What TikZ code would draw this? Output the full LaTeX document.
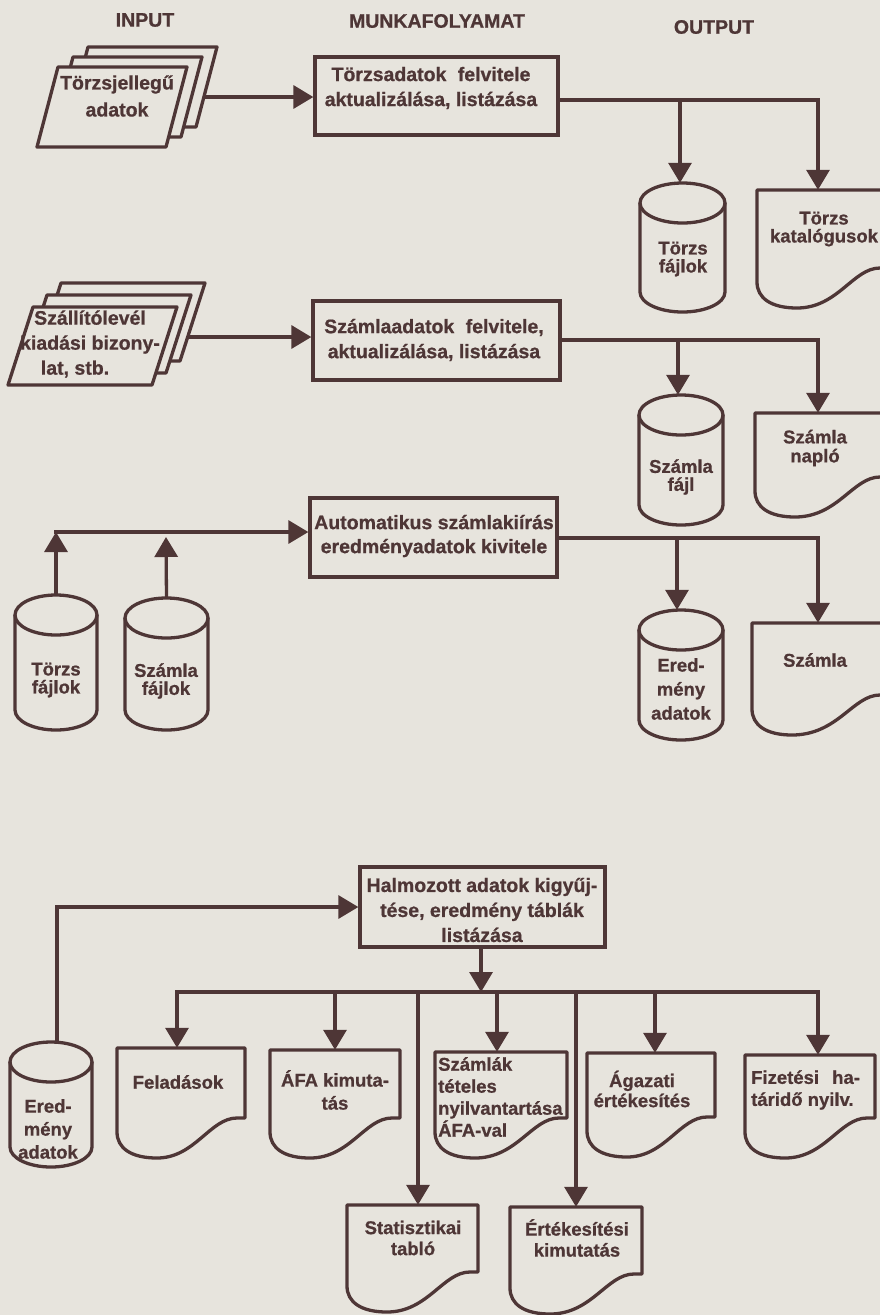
\documentclass[tikz,border=0pt]{standalone}
\usepackage{fontspec}
\setmainfont[BoldFeatures={FakeBold=0.8}]{Liberation Sans}
\usetikzlibrary{arrows.meta,fit,calc}
\definecolor{paper}{RGB}{231,228,221}
\definecolor{ink}{RGB}{78,54,54}

\tikzset{
  shp/.style={draw=ink, line width=3.3pt, line join=round},
  wire/.style={draw=ink, line width=3.3pt, line cap=rect},
  flow/.style={draw=ink, line width=3.3pt, -{Triangle[length=20pt,width=23pt]}},
  frame/.style={inner sep=0pt, draw=none},
  pbox/.style={draw=ink, line width=3.3pt, inner sep=0pt},
  lbl/.style={text=ink, align=center, inner sep=0pt, font=\fontsize{18.5}{22}\selectfont\bfseries},
  sk/.style={font=\fontsize{18.5}{#1}\selectfont\bfseries},
  bk/.style={font=\fontsize{19.5}{#1}\selectfont\bfseries},
  head/.style={text=ink, inner sep=0pt, font=\fontsize{19.5}{22}\selectfont\bfseries},
}

% storage cylinder: name, left, top, right, bottom
\newcommand\cylat[5]{%
  \pgfmathsetmacro\qcx{(#2+#4)/2}\pgfmathsetmacro\qrx{(#4-#2)/2}%
  \pgfmathsetmacro\qyt{#3+20}\pgfmathsetmacro\qyb{#5-20}%
  \pgfmathsetmacro\qkx{0.5523*\qrx}%
  \node[frame, fit={(#2,#3) (#4,#5)}] (#1) {};
  \draw[shp] (#2,\qyt) -- (#2,\qyb) .. controls (#2,\qyb+11) and (\qcx-\qkx,#5) .. (\qcx,#5)
     .. controls (\qcx+\qkx,#5) and (#4,\qyb+11) .. (#4,\qyb) -- (#4,\qyt);
  \draw[shp] (\qcx,\qyt) ellipse[x radius=\qrx, y radius=20];
}

% printed document: name, left, top, right, lowest point of the wave
\newcommand\docat[5]{%
  \node[frame, fit={(#2,#3) (#4,#5)}] (#1) {};
  \draw[shp] (#2,#3) -- (#4,#3) -- (#4,#5-40) -- (#4-8,#5-40)
     .. controls (#4-35,#5-40) and (#4-50,#5) .. (#2+40,#5)
     .. controls (#2+14,#5) and (#2,#5-10) .. (#2,#5-26) -- cycle;
}

% one sheet of a card deck: left, top, width, height, slant
\newcommand\sheetat[5]{%
  \filldraw[shp, fill=paper] (#1,#2) -- ++(#3,0) -- ++(-#5,#4) -- ++(-#3,0) -- cycle;
}

\begin{document}
\begin{tikzpicture}[x=1pt,y=-1pt]
\path[use as bounding box, fill=paper] (0,0) rectangle (880,1315);
\clip (0,0) rectangle (880,1315);

% column headings
\node[head] (hin)  at (145,20) {INPUT};
\node[head] (hmu)  at (437,21) {MUNKAFOLYAMAT};
\node[head] (hout) at (714,27) {OUTPUT};

% ---------- master data ----------
\sheetat{88}{47}{129}{80}{21}
\sheetat{73}{57}{129}{80}{21}
\sheetat{58}{67}{129}{80}{21}
\node[lbl, bk=27] (tin1) at (117,96) {Törzsjellegű\\adatok};
\coordinate (s1out) at (205,97);

\node[pbox, fit={(315,57) (558,135)}] (p1) {};
\node[lbl, bk=25] (tp1) at (431,88) {Törzsadatok\hspace{6pt} felvitele\\aktualizálása, listázása};

\cylat{cT1}{640}{183}{725}{312}
\node[lbl, sk=18] (tc1) at (683,259) {Törzs\\fájlok};
\docat{kat}{757}{190}{888}{308}
\node[lbl, sk=18] (tk1) at (824,229) {Törzs\\katalógusok};

\draw[flow] (s1out) -- (s1out -| p1.west);
\coordinate (k1) at (818,100);
\coordinate (f1) at (680,100);
\draw[flow] (p1.east |- k1) -- (k1) -- (k1 |- kat.north);
\draw[flow] (f1) -- (f1 |- cT1.north);

% ---------- invoices ----------
\sheetat{61}{283}{144}{78}{25}
\sheetat{47}{295}{144}{78}{25}
\sheetat{33}{307}{144}{78}{25}
\node[lbl, bk=25] (tin2) at (90,344) {Szállítólevél\\kiadási bizony-\\lat, stb.\hspace*{30pt}};
\coordinate (s2out) at (188,337);

\node[pbox, fit={(313,301) (560,380)}] (p2) {};
\node[lbl, bk=25] (tp2) at (434,340) {Számlaadatok\hspace{6pt} felvitele,\\aktualizálása, listázása};

\cylat{cS1}{639}{395}{723}{525}
\node[lbl, sk=18] (tc2) at (681,477) {Számla\\fájl};
\docat{nap}{755}{413}{888}{517}
\node[lbl, sk=19] (tk2) at (815,448) {Számla\\napló};

\draw[flow] (s2out) -- (s2out -| p2.west);
\coordinate (k2) at (818,340);
\coordinate (f2) at (678,340);
\draw[flow] (p2.east |- k2) -- (k2) -- (k2 |- nap.north);
\draw[flow] (f2) -- (f2 |- cS1.north);

% ---------- automatic invoicing ----------
\node[pbox, fit={(310,498) (557,577)}] (p3) {};
\node[lbl, bk=24] (tp3) at (434,536) {Automatikus számlakiírás\\eredményadatok kivitele};

\cylat{cT2}{15}{595}{97}{730}
\node[lbl, sk=18] (tc4) at (56,680) {Törzs\\fájlok};
\cylat{cS2}{125}{598}{208}{730}
\node[lbl, sk=18] (tc5) at (166,681) {Számla\\fájlok};

\coordinate (c3) at (56,532);
\coordinate (c3b) at (166,537);
\draw[flow] (cT2.north) -- (c3);
\draw[flow, line cap=rect] (c3) -- (c3 -| p3.west);
\draw[flow] (cS2.north) -- (c3b);

\cylat{cE1}{639}{610}{723}{740}
\node[lbl, sk=24] (tc3) at (681,689) {Ered-\\mény\\adatok};
\docat{szl}{752}{623}{888}{735}
\node[lbl] (tk3) at (815,660) {Számla};

\coordinate (k3) at (818,538);
\coordinate (f3) at (677,538);
\draw[flow] (p3.east |- k3) -- (k3) -- (k3 |- szl.north);
\draw[flow] (f3) -- (f3 |- cE1.north);

% ---------- cumulated results ----------
\node[pbox, fit={(360,867) (605,947)}] (p4) {};
\node[lbl, bk=25] (tp4) at (482,910) {Halmozott adatok kigyűj-\\tése, eredmény táblák\\listázása};

\cylat{cE2}{10}{1042}{92}{1167}
\node[lbl, sk=23] (tc6) at (48,1129) {Ered-\\mény\\adatok};
\coordinate (e4) at (57,907);
\draw[flow] (e4 |- cE2.north) -- (e4) -- (e4 -| p4.west);

\docat{fel}{117}{1048}{245}{1158}
\node[lbl] (td1) at (178,1082) {Feladások};
\docat{afa}{270}{1050}{400}{1158}
\node[lbl, sk=23] (td2) at (335,1090) {ÁFA kimuta-\\tás};
\docat{tet}{435}{1052}{567}{1158}
\node[lbl, sk=22, align=left, anchor=west] (td3) at (438,1097) {Számlák\\tételes\\nyilvantartása\\ÁFA-val};
\docat{aga}{587}{1053}{715}{1157}
\node[lbl, sk=20] (td4) at (642,1089) {Ágazati\\értékesítés};
\docat{fiz}{745}{1055}{875}{1158}
\node[lbl, sk=22, align=left, anchor=west] (td5) at (751,1090) {Fizetési\hspace{8pt} ha-\\táridő nyilv.};
\docat{sta}{347}{1205}{478}{1312}
\node[lbl, sk=21] (td6) at (413,1238) {Statisztikai\\tabló};
\docat{ert}{510}{1207}{642}{1314}
\node[lbl, sk=21] (td7) at (577,1238) {Értékesítési\\kimutatás};

\coordinate (bus) at (481,992);
\coordinate (b1) at (177,992);
\coordinate (b2) at (335,992);
\coordinate (b3) at (418,992);
\coordinate (b4) at (497,992);
\coordinate (b5) at (576,992);
\coordinate (b6) at (655,992);
\coordinate (b7) at (818,992);
\draw[flow] (p4.south -| bus) -- (bus);
\draw[wire] (b1) -- (b7);
\draw[flow] (b1) -- (b1 |- fel.north);
\draw[flow] (b2) -- (b2 |- afa.north);
\draw[flow] (b3) -- (b3 |- sta.north);
\draw[flow] (b4) -- (b4 |- tet.north);
\draw[flow] (b5) -- (b5 |- ert.north);
\draw[flow] (b6) -- (b6 |- aga.north);
\draw[flow] (b7) -- (b7 |- fiz.north);
\end{tikzpicture}
\end{document}
